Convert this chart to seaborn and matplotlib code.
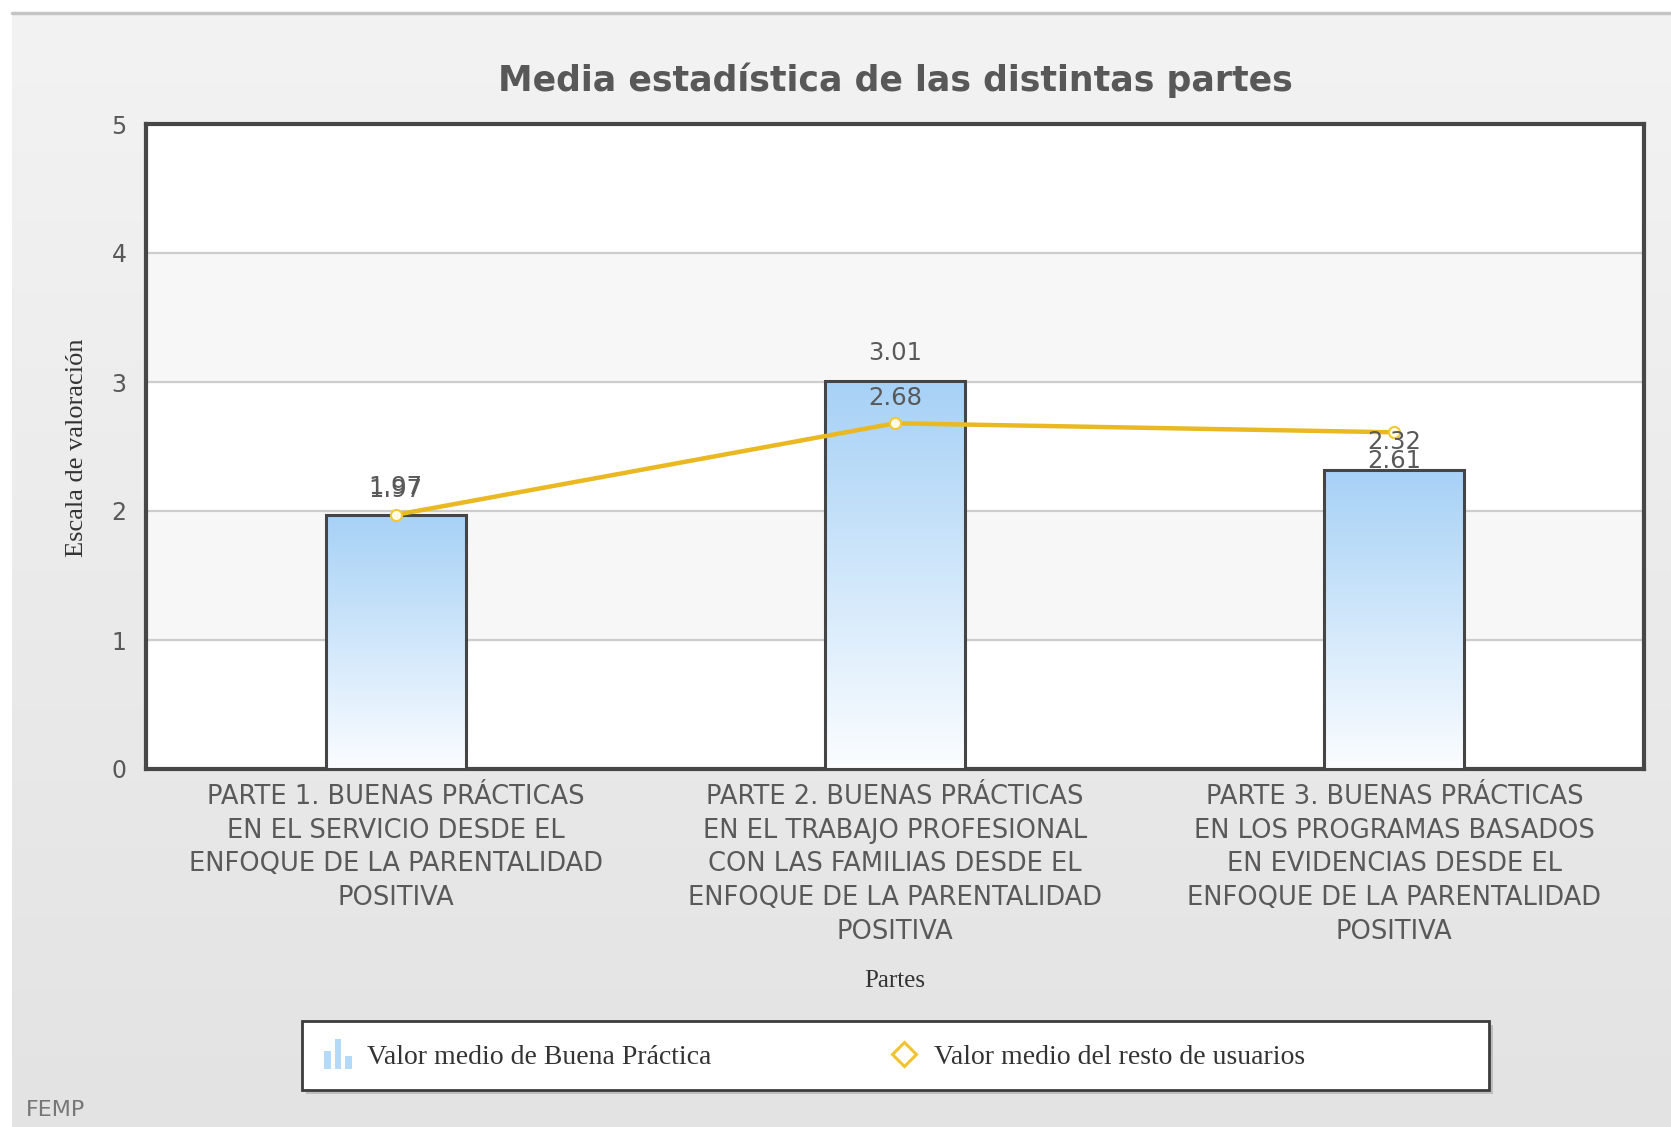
import matplotlib
matplotlib.use("Agg")
import matplotlib.pyplot as plt
import numpy as np
import pandas as pd
import seaborn as sns
from matplotlib.lines import Line2D
from matplotlib.path import Path
from matplotlib.patches import Rectangle
from matplotlib.transforms import Affine2D
from matplotlib.colors import LinearSegmentedColormap

# data
categories = [
    "PARTE 1. BUENAS PRÁCTICAS\nEN EL SERVICIO DESDE EL\nENFOQUE DE LA PARENTALIDAD\nPOSITIVA",
    "PARTE 2. BUENAS PRÁCTICAS\nEN EL TRABAJO PROFESIONAL\nCON LAS FAMILIAS DESDE EL\nENFOQUE DE LA PARENTALIDAD\nPOSITIVA",
    "PARTE 3. BUENAS PRÁCTICAS\nEN LOS PROGRAMAS BASADOS\nEN EVIDENCIAS DESDE EL\nENFOQUE DE LA PARENTALIDAD\nPOSITIVA",
]
bar_values = [1.97, 3.01, 2.32]
line_values = [1.97, 2.68, 2.61]
y_ticks = [0, 1, 2, 3, 4, 5]

title = "Media estadística de las distintas partes"
x_label = "Partes"
y_label = "Escala de valoración"
bar_name = "Valor medio de Buena Práctica"
line_name = "Valor medio del resto de usuarios"
footer = "FEMP"

df = pd.DataFrame({"parte": categories, "bar": bar_values, "line": line_values})

sns.set_style("white")
plt.rcParams["font.family"] = ["DejaVu Sans"]

W, H = 1671, 1127
fig = plt.figure(figsize=(W / 100, H / 100), dpi=100)
fig.patch.set_facecolor("white")

# grey panel background with a soft vertical gradient
bg = fig.add_axes([0, 0, 1, 1], zorder=-10)
bg.axis("off")
grad = np.linspace(0, 1, 256).reshape(-1, 1)
bg_cmap = LinearSegmentedColormap.from_list("bg", ["#f3f3f3", "#e3e3e3"])
bg.imshow(grad, extent=[12 / W, 1, 0, 1 - 13 / H], aspect="auto", cmap=bg_cmap, origin="upper")
bg.plot([12 / W, 1], [1 - 13 / H, 1 - 13 / H], color="#c4c4c4", lw=2.5)
bg.set_xlim(0, 1)
bg.set_ylim(0, 1)

ax = fig.add_axes([146 / W, 1 - 769 / H, (1644 - 146) / W, (769 - 124) / H])
ax.set_facecolor("white")

sns.barplot(data=df, x="parte", y="bar", width=0.28, color="#a9d4f6",
            edgecolor="#454545", linewidth=2.2, ax=ax, zorder=3)

# gradient fill inside the bars
bar_cmap = LinearSegmentedColormap.from_list("bar", ["#fbfdff", "#a6d1f6"])
for p in ax.patches:
    x0, y0 = p.get_x(), p.get_y()
    w, h = p.get_width(), p.get_height()
    im = ax.imshow(grad, extent=[x0, x0 + w, y0 + h, y0], aspect="auto",
                   cmap=bar_cmap, origin="upper", zorder=3)
    im.set_clip_path(p)
    p.set_facecolor("none")
    p.set_zorder(4)

sns.pointplot(data=df, x="parte", y="line", color="#eab821", ax=ax,
              markers="o", linewidth=3.2, markersize=8,
              markerfacecolor="#fffbe8", markeredgecolor="#f2c832",
              markeredgewidth=1.5, zorder=5)

ax.set_xlim(-0.5, 2.5)
ax.set_ylim(0, 5)
ax.set_yticks(y_ticks)
for lo in (1, 3):
    ax.axhspan(lo, lo + 1, color="#f7f7f7", zorder=0)
for t in y_ticks[1:-1]:
    ax.axhline(t, color="#cdcdcd", lw=1.6, zorder=1)

for s in ax.spines.values():
    s.set_visible(True)
    s.set_color("#474747")
    s.set_linewidth(3)

ax.set_xlabel("")
ax.set_ylabel("")
ax.tick_params(axis="both", length=0, colors="#595959", labelsize=17)
ax.tick_params(axis="x", pad=11)
ax.tick_params(axis="y", pad=14)
for lbl in ax.get_xticklabels():
    lbl.set_linespacing(1.38)
    lbl.set_fontsize(18.5)

# value labels
for i, (b, l) in enumerate(zip(bar_values, line_values)):
    ax.annotate(f"{b:.2f}", (i, b), xytext=(0, 20), textcoords="offset points",
                ha="center", va="center", fontsize=17.5, color="#595959", zorder=6)
    below = l > b and l - b < 0.4
    ax.annotate(f"{l:.2f}", (i, l), xytext=(0, -21 if below else 18),
                textcoords="offset points", ha="center", va="center",
                fontsize=17.5, color="#595959", zorder=6)

fig.text(895 / W, 1 - 80 / H, title, ha="center", va="center",
         fontsize=25, fontweight="bold", color="#585858")
fig.text(895 / W, 1 - 981 / H, x_label, ha="center", va="center",
         fontsize=18, color="#333333", family="Liberation Serif")
fig.text(77 / W, 1 - 448 / H, y_label, ha="center", va="center", rotation=90,
         fontsize=19, color="#333333", family="Liberation Serif")
fig.text(26 / W, 1 - 1110 / H, footer, ha="left", va="center",
         fontsize=16, color="#777777")

# legend box with drop shadow
lx, ly, lw_, lh = 302 / W, 1 - 1090 / H, (1489 - 302) / W, (1090 - 1021) / H
fig.patches.append(Rectangle((lx + 4 / W, ly - 4 / H), lw_, lh, transform=fig.transFigure,
                             facecolor="#bdbdbd", edgecolor="none", zorder=1))
fig.patches.append(Rectangle((lx, ly), lw_, lh, transform=fig.transFigure,
                             facecolor="white", edgecolor="#3c3c3c", lw=2, zorder=2))

bars_icon = Path.make_compound_path(
    Path.unit_rectangle().transformed(Affine2D().scale(0.22, 0.6).translate(-0.45, -0.5)),
    Path.unit_rectangle().transformed(Affine2D().scale(0.22, 1.0).translate(-0.11, -0.5)),
    Path.unit_rectangle().transformed(Affine2D().scale(0.22, 0.45).translate(0.23, -0.5)),
)
handles = [
    Line2D([], [], ls="none", marker=bars_icon, markersize=22, color="#b5daf7",
           markeredgewidth=0),
    Line2D([], [], ls="none", marker="D", markersize=12, markerfacecolor="white",
           markeredgecolor="#f0c431", markeredgewidth=2.2),
]
fig.legend(handles, [bar_name, line_name], loc="center left",
           bbox_to_anchor=(299 / W, 1 - 1057 / H), ncol=2, frameon=False,
           prop={"family": "Liberation Serif", "size": 20},
           handlelength=1.0, handletextpad=0.55, columnspacing=6.45,
           labelcolor="#333333")

fig.savefig("out.png", dpi=100)
